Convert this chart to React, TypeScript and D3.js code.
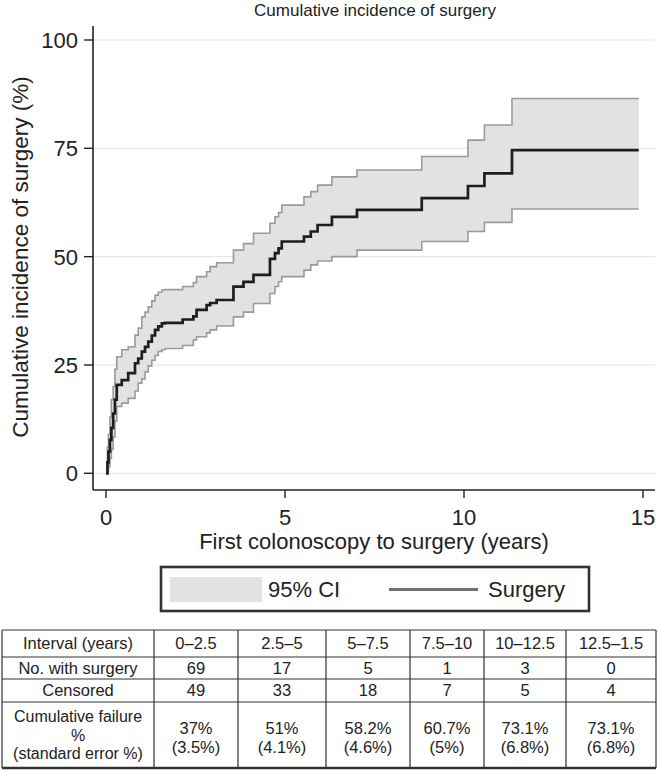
import React from "react";
import * as d3 from "d3";

// event times (years) and cumulative incidence (%)
const times = [0, 0.04, 0.07, 0.11, 0.15, 0.2, 0.25, 0.3, 0.44, 0.62, 0.81, 0.9, 1.0, 1.09, 1.18, 1.28, 1.37, 1.46, 1.56, 1.65, 2.14, 2.44, 2.53, 2.81, 2.91, 3.09, 3.56, 3.84, 4.12, 4.58, 4.72, 4.82, 4.91, 5.53, 5.72, 5.91, 6.31, 7.01, 8.82, 10.11, 10.57, 11.34];
const estimate = [0, 2.5, 5, 7.7, 10.5, 13.8, 17, 20.4, 21.5, 23.1, 25.4, 26.5, 28.1, 29.2, 30.4, 31.8, 33.1, 33.9, 34.6, 34.7, 35.5, 36.2, 37.7, 38.8, 39.3, 40.0, 43.1, 44.2, 45.8, 49.5, 50.8, 51.9, 53.5, 54.6, 55.8, 57.3, 59.2, 60.8, 63.5, 66.3, 69.2, 74.6];
const upperCI = [0, 6, 9, 13, 17, 20.0, 24, 26.9, 28.5, 29.2, 31.9, 33.5, 36.1, 37.2, 38.4, 39.8, 41.1, 41.8, 42.3, 42.4, 43.1, 44.0, 45.4, 46.5, 47.7, 48.6, 51.5, 53.0, 55.4, 57.7, 59.2, 60.2, 61.9, 63.8, 65.0, 66.5, 68.4, 70.0, 73.1, 76.9, 80.4, 86.5];
const lowerCI = [0, 0.5, 1.5, 3.5, 5.5, 8.4, 12, 15.4, 16.2, 17.3, 19.0, 20.8, 21.8, 23.4, 24.8, 26.1, 27.2, 28.1, 28.5, 28.8, 29.5, 30.8, 31.5, 32.4, 33.1, 34.0, 36.1, 37.2, 39.2, 41.5, 43.1, 44.2, 45.4, 46.9, 48.1, 49.0, 50.0, 51.5, 53.5, 55.8, 57.9, 61.0];
const lastFollowUp = 14.88;

const xTicks = [0, 5, 10, 15];
const yTicks = [0, 25, 50, 75, 100];

// risk table
const intervals = ["0–2.5", "2.5–5", "5–7.5", "7.5–10", "10–12.5", "12.5–1.5"];
const withSurgery = ["69", "17", "5", "1", "3", "0"];
const censored = ["49", "33", "18", "7", "5", "4"];
const cumFailure = ["37%", "51%", "58.2%", "60.7%", "73.1%", "73.1%"];
const stdError = ["(3.5%)", "(4.1%)", "(4.6%)", "(5%)", "(6.8%)", "(6.8%)"];

const W = 660;
const H = 770;
const font = "'Liberation Sans', Arial, Helvetica, sans-serif";

type Pt = { t: number; est: number; lo: number; hi: number };

export default function App() {
  const x = d3.scaleLinear().domain([0, 15]).range([106, 643]);
  const y = d3.scaleLinear().domain([0, 100]).range([473.3, 40]);
  const spineX = 93;
  const spineY = 490;
  const plotRight = 655;

  const pts: Pt[] = times.map((t, i) => ({ t, est: estimate[i], lo: lowerCI[i], hi: upperCI[i] }));
  const last = pts[pts.length - 1];
  pts.push({ ...last, t: lastFollowUp });

  const band = d3
    .area<Pt>()
    .x((d) => x(d.t))
    .y0((d) => y(d.lo))
    .y1((d) => y(d.hi))
    .curve(d3.curveStepAfter);
  const line = (key: "est" | "lo" | "hi") =>
    d3
      .line<Pt>()
      .x((d) => x(d.t))
      .y((d) => y(d[key]))
      .curve(d3.curveStepAfter)(pts) || "";

  // table layout
  const colEdges = [2, 154, 238, 326, 410, 484, 566, 656];
  const rowEdges = [630, 657, 679, 702, 768];
  const colMid = (i: number) => (colEdges[i] + colEdges[i + 1]) / 2;
  const rowMid = (i: number) => (rowEdges[i] + rowEdges[i + 1]) / 2;

  return (
    <svg width={W} height={H} style={{ position: "absolute", left: 0, top: 0, background: "#fff" }} fontFamily={font}>
      <text x={375} y={16} textAnchor="middle" fontSize={17} fill="#222">
        Cumulative incidence of surgery
      </text>

      {/* grid */}
      {yTicks.map((v) => (
        <line key={"g" + v} x1={spineX} x2={plotRight} y1={y(v)} y2={y(v)} stroke="#e6e6e6" strokeWidth={1.2} />
      ))}

      {/* CI band and curve */}
      <path d={band(pts) || ""} fill="#e2e2e2" />
      <path d={line("hi")} fill="none" stroke="#9a9a9a" strokeWidth={1.6} />
      <path d={line("lo")} fill="none" stroke="#9a9a9a" strokeWidth={1.6} />
      <path d={line("est")} fill="none" stroke="#1e1e1e" strokeWidth={2.7} />

      {/* axes */}
      <line x1={spineX} x2={spineX} y1={26} y2={spineY} stroke="#222" strokeWidth={1.6} />
      <line x1={spineX} x2={plotRight} y1={spineY} y2={spineY} stroke="#222" strokeWidth={1.6} />
      {yTicks.map((v) => (
        <g key={"y" + v}>
          <line x1={spineX - 9} x2={spineX} y1={y(v)} y2={y(v)} stroke="#222" strokeWidth={1.4} />
          <text x={78} y={y(v)} dy="0.36em" textAnchor="end" fontSize={22} fill="#222">
            {v}
          </text>
        </g>
      ))}
      {xTicks.map((v) => (
        <g key={"x" + v}>
          <line x1={x(v)} x2={x(v)} y1={spineY} y2={spineY + 8} stroke="#222" strokeWidth={1.4} />
          <text x={x(v)} y={525} textAnchor="middle" fontSize={22} fill="#222">
            {v}
          </text>
        </g>
      ))}
      <text x={374} y={549} textAnchor="middle" fontSize={22} fill="#222">
        First colonoscopy to surgery (years)
      </text>
      <text transform="translate(28,257) rotate(-90)" textAnchor="middle" fontSize={22.5} fill="#222">
        Cumulative incidence of surgery (%)
      </text>

      {/* legend */}
      <rect x={161} y={567} width={428} height={44} fill="#fff" stroke="#333" strokeWidth={2.6} />
      <rect x={170} y={577} width={92} height={25} fill="#e2e2e2" />
      <text x={268} y={597} fontSize={22} fill="#222">95% CI</text>
      <line x1={389} x2={478} y1={589.5} y2={589.5} stroke="#707070" strokeWidth={3} />
      <text x={488} y={597} fontSize={22} fill="#222">Surgery</text>

      {/* table */}
      <g fontSize={16.5} fill="#222" textAnchor="middle">
        {rowEdges.map((ry, i) => (
          <line key={"r" + i} x1={colEdges[0]} x2={colEdges[colEdges.length - 1]} y1={ry} y2={ry} stroke="#333" strokeWidth={i === rowEdges.length - 1 ? 2.4 : 1.2} />
        ))}
        {colEdges.map((cx, i) => (
          <line key={"c" + i} x1={cx} x2={cx} y1={rowEdges[0]} y2={rowEdges[rowEdges.length - 1]} stroke="#333" strokeWidth={1.2} />
        ))}
        <text x={colMid(0)} y={rowMid(0)} dy="0.36em">Interval (years)</text>
        <text x={colMid(0)} y={rowMid(1)} dy="0.36em">No. with surgery</text>
        <text x={colMid(0)} y={rowMid(2)} dy="0.36em">Censored</text>
        <g fontSize={16}>
          <text x={colMid(0)} y={716.5} dy="0.36em">Cumulative failure</text>
          <text x={colMid(0)} y={735} dy="0.36em">%</text>
          <text x={colMid(0)} y={753.5} dy="0.36em">(standard error %)</text>
        </g>
        {intervals.map((lab, i) => (
          <g key={"t" + i}>
            <text x={colMid(i + 1)} y={rowMid(0)} dy="0.36em">{lab}</text>
            <text x={colMid(i + 1)} y={rowMid(1)} dy="0.36em">{withSurgery[i]}</text>
            <text x={colMid(i + 1)} y={rowMid(2)} dy="0.36em">{censored[i]}</text>
            <text x={colMid(i + 1)} y={728} dy="0.36em">{cumFailure[i]}</text>
            <text x={colMid(i + 1)} y={747} dy="0.36em">{stdError[i]}</text>
          </g>
        ))}
      </g>
    </svg>
  );
}
